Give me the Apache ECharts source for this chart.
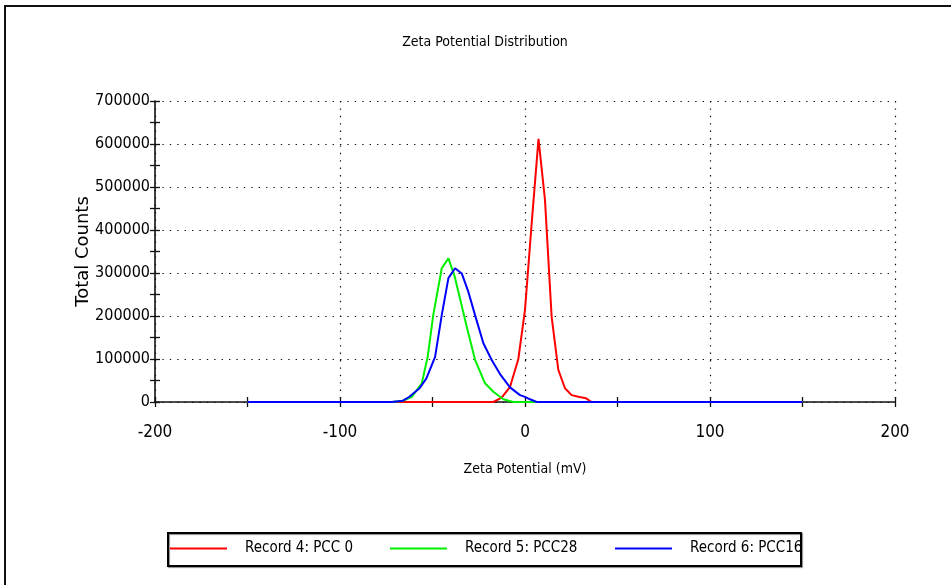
<!DOCTYPE html>
<html>
<head>
<meta charset="utf-8">
<script src="https://cdn.jsdelivr.net/npm/echarts@6/dist/echarts.min.js"></script>
<style>
  html, body { margin: 0; padding: 0; background: #fff; }
  #chart { width: 951px; height: 585px; }
</style>
</head>
<body>
<div id="chart"></div>
<script>
// Zeta potential (mV) sample positions and total counts for each record
const zetaRed   = [-150, -17.1, -12.6, -8.1, -3.6, 0, 3.6, 7.3, 10.8, 14.4, 18, 21.6, 25.2, 28.8, 33, 36, 150];
const countsRed = [0, 0, 10000, 35000, 100000, 214000, 415000, 612000, 470000, 198000, 75000, 32000, 16000, 12000, 8600, 0, 0];

const zetaGreen   = [-150, -72, -66, -61.2, -55.8, -52.6, -49.6, -45, -41.4, -38.2, -35.1, -31.5, -27, -21.6, -17.1, -11.7, -6.3, 150];
const countsGreen = [0, 0, 3000, 12000, 43500, 105000, 202000, 311000, 334000, 295000, 240000, 175000, 98000, 43500, 24000, 6300, 0, 0];

const zetaBlue   = [-150, -72, -66, -62.7, -57, -53.3, -48.6, -45, -41.4, -37.8, -34.2, -30.6, -27, -22.5, -18, -13.5, -8.1, -2.7, 0, 2.7, 6.3, 150];
const countsBlue = [0, 0, 3000, 11600, 32000, 55000, 105000, 202000, 288000, 311000, 299000, 256000, 202000, 136500, 97700, 65000, 34000, 16000, 12000, 6300, 0, 0];

const seriesNames = ['Record 4: PCC 0', 'Record 5: PCC28', 'Record 6: PCC16'];
const seriesColors = ['#ff0000', '#00f000', '#0000ff'];

const xTicks = { min: -200, max: 200, step: 100 };
const yTicks = { min: 0, max: 700000, step: 100000 };

const NARROW = '"DejaVu Sans Condensed", "Liberation Sans", sans-serif';
const WIDE = '"DejaVu Sans", "Liberation Sans", sans-serif';

const pairs = (xs, ys) => xs.map((x, i) => [x, ys[i]]);

const chart = echarts.init(document.getElementById('chart'), null, { renderer: 'canvas' });

const grid = { left: 155, right: 56, top: 101, bottom: 183, containLabel: false };

const dotted = { color: '#111', width: 1.2, type: [1.4, 6] };
const tickLine = { color: '#111', width: 1.3 };

// Main axes carry labels, names and dotted grid; twin axes add the inward half of each tick
function xAxisDef(inside, main) {
  return {
    type: 'value', min: xTicks.min, max: xTicks.max, interval: xTicks.step,
    position: 'bottom',
    name: main ? 'Zeta Potential (mV)' : '',
    nameLocation: 'middle', nameGap: 60, nameMoveOverlap: false,
    nameTextStyle: { fontFamily: NARROW, fontSize: 14, color: '#000' },
    axisLine: { show: main, onZero: false, lineStyle: { color: '#111', width: 1.6 } },
    axisTick: { show: true, inside: inside, length: 5, lineStyle: tickLine },
    minorTick: { show: true, splitNumber: 2, length: 5, lineStyle: tickLine },
    axisLabel: { show: main, margin: 22, fontFamily: NARROW, fontSize: 17, color: '#000',
      formatter: v => String(v) },
    splitLine: { show: main, lineStyle: dotted },
    minorSplitLine: { show: false }
  };
}
function yAxisDef(inside, main) {
  return {
    type: 'value', min: yTicks.min, max: yTicks.max, interval: yTicks.step,
    position: 'left',
    name: main ? 'Total Counts' : '',
    nameLocation: 'middle', nameGap: 63, nameRotate: 90, nameMoveOverlap: false,
    nameTextStyle: { fontFamily: WIDE, fontSize: 18, color: '#000' },
    axisLine: { show: main, onZero: false, lineStyle: { color: '#111', width: 1.6 } },
    axisTick: { show: true, inside: inside, length: 5, lineStyle: tickLine },
    minorTick: { show: true, splitNumber: 2, length: 5, lineStyle: tickLine },
    axisLabel: { show: main, margin: 5, fontFamily: NARROW, fontSize: 16, color: '#000',
      formatter: v => String(v) },
    splitLine: { show: main, lineStyle: dotted },
    minorSplitLine: { show: false }
  };
}

function lineSeries(idx, xs, ys) {
  return {
    name: seriesNames[idx], type: 'line', data: pairs(xs, ys),
    xAxisIndex: 0, yAxisIndex: 0,
    showSymbol: false, symbol: 'none', smooth: false,
    lineStyle: { color: seriesColors[idx], width: 2 },
    itemStyle: { color: seriesColors[idx] },
    z: 3 + idx, silent: true
  };
}

const legendLefts = [170, 390, 615];
const legends = seriesNames.map((name, i) => ({
  data: [{ name: name, icon: 'rect' }],
  left: legendLefts[i], top: 541,
  itemWidth: 57, itemHeight: 2,
  padding: 0,
  textStyle: { fontFamily: NARROW, fontSize: 15, color: '#000', padding: [0, 0, 0, 13] },
  selectedMode: false
}));

chart.setOption({
  animation: false,
  backgroundColor: '#fff',
  grid: grid,
  xAxis: [xAxisDef(false, true), xAxisDef(true, false)],
  yAxis: [yAxisDef(false, true), yAxisDef(true, false)],
  legend: legends,
  series: [
    lineSeries(0, zetaRed, countsRed),
    lineSeries(1, zetaGreen, countsGreen),
    lineSeries(2, zetaBlue, countsBlue)
  ],
  graphic: [
    // outer frame of the report panel
    { type: 'polyline', shape: { points: [[5, 600], [5, 6], [960, 6]] },
      style: { stroke: '#111', lineWidth: 2, fill: null }, silent: true },
    { type: 'text', style: {
        text: 'Zeta Potential Distribution', x: 485, y: 42,
        textAlign: 'center', textVerticalAlign: 'middle',
        font: '14px ' + NARROW, fill: '#000' }, silent: true },
    // legend frame
    { type: 'rect', shape: { x: 168, y: 533, width: 633, height: 33 },
      style: { stroke: '#000', lineWidth: 2, fill: null,
        shadowColor: 'rgba(0,0,0,0.45)', shadowOffsetX: 1, shadowOffsetY: 1, shadowBlur: 1 },
      z: -1, silent: true }
  ]
});
</script>
</body>
</html>
